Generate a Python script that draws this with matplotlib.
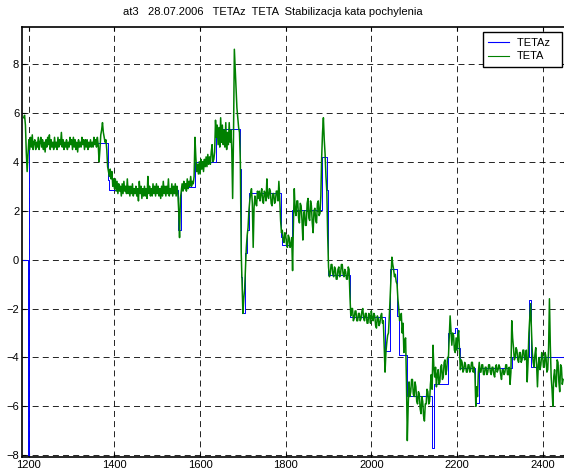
import numpy as np
import matplotlib
matplotlib.use('Agg')
import matplotlib.pyplot as plt

plt.rcParams['font.family'] = ['Liberation Sans', 'DejaVu Sans']
plt.rcParams['lines.scale_dashes'] = False

# TETAz - setpoint, step changes (x where the level starts, level)
tetaz_x = [1186, 1197, 1200, 1384, 1388, 1549, 1556, 1588, 1637, 1693, 1696, 1698,
           1700, 1705, 1709, 1714, 1789, 1791, 1814, 1884, 1896, 1898, 1950, 2032,
           2043, 2060, 2064, 2083, 2141, 2146, 2180, 2195, 2200, 2207, 2242, 2252,
           2328, 2368, 2374, 2390, 2448]
tetaz_y = [0.0, -8.4, 4.75, 3.25, 2.85, 1.2, 2.95, 4.0, 5.34, 3.7, -0.7, -1.5,
           -2.2, 0.27, 1.2, 2.72, 0.93, 0.6, 2.03, 4.2, 2.85, -0.63, -2.35, -3.75,
           -0.37, -2.3, -3.9, -5.58, -7.7, -5.1, -3.0, -2.8, -3.6, -4.45, -5.87, -4.43,
           -4.0, -1.65, -4.4, -4.0, -4.0]

# TETA - measured angle, one sample every 2 steps starting at 1188
teta_start = 1188
teta_step = 2
teta = [
    5.8, 5.9, 5.5, 4.4, 3.6, 4.3, 4.9, 4.5, 5.0, 4.6, 5.1, 4.5, 4.8, 4.9, 4.5, 4.8, 4.6, 5.0, 4.5, 4.8,                  # 1188
    5.0, 4.6, 4.9, 4.5, 4.8, 4.4, 4.9, 4.6, 5.0, 4.7, 5.1, 4.5, 4.9, 4.6, 4.8, 4.5, 5.0, 4.6, 4.8, 4.5,                  # 1228
    5.0, 4.6, 4.9, 4.7, 5.2, 4.6, 4.9, 4.5, 4.8, 4.6, 4.9, 4.5, 4.8, 4.6, 5.0, 4.7, 4.9, 4.5, 5.0, 4.6,                  # 1268
    4.9, 4.5, 4.8, 4.4, 4.9, 4.6, 4.8, 4.6, 5.0, 4.7, 4.9, 4.5, 4.9, 4.6, 4.9, 4.5, 4.8, 4.6, 4.9, 4.6,                  # 1308
    4.8, 4.6, 5.0, 4.7, 4.9, 4.6, 5.0, 4.7, 4.0, 4.5, 5.1, 5.3, 5.6, 5.2, 5.0, 4.8, 4.9, 4.5, 3.8, 3.6,                  # 1348
    3.4, 3.7, 3.3, 3.6, 3.0, 3.3, 2.9, 3.3, 2.8, 3.2, 2.7, 3.1, 2.8, 3.0, 2.6, 3.1, 2.7, 3.2, 2.8, 3.0,                  # 1388
    2.7, 3.3, 2.7, 3.0, 2.6, 3.0, 2.7, 3.1, 2.6, 2.9, 2.7, 3.0, 2.6, 2.9, 2.4, 3.2, 2.7, 3.0, 2.5, 2.9,                  # 1428
    2.6, 3.0, 2.6, 2.9, 2.5, 3.4, 2.7, 3.0, 2.6, 2.9, 2.6, 3.1, 2.7, 3.0, 2.6, 3.1, 2.7, 3.0, 2.6, 2.9,                  # 1468
    2.5, 3.0, 2.6, 3.2, 2.7, 3.0, 2.6, 3.0, 2.7, 3.3, 2.6, 2.9, 2.7, 3.1, 2.6, 3.0, 2.7, 3.1, 2.6, 3.0,                  # 1508
    2.7, 2.0, 0.9, 2.5, 2.8, 3.1, 2.8, 3.2, 2.9, 3.1, 2.8, 3.3, 2.9, 3.2, 3.0, 3.4, 3.0, 3.2, 3.1, 3.4,                  # 1548
    5.0, 4.2, 3.6, 3.9, 3.5, 4.0, 3.5, 4.1, 3.7, 4.0, 3.6, 4.1, 3.8, 4.2, 3.8, 4.3, 3.9, 4.2, 3.9, 4.4,                  # 1588
    4.7, 4.0, 4.1, 4.4, 5.7, 5.0, 5.5, 4.7, 5.4, 4.6, 5.8, 4.8, 5.5, 4.7, 5.3, 4.6, 5.6, 4.5, 5.2, 4.7,                  # 1628
    5.6, 4.8, 5.3, 4.5, 2.5, 5.0, 8.6, 7.8, 7.0, 6.2, 5.8, 5.4, 5.2, 4.0, 0.3, -1.0, -2.2, -1.6, -1.2, -0.3,             # 1668
    0.5, 1.0, 1.3, 2.0, 2.4, 2.7, 2.9, 2.3, 0.5, 2.1, 2.6, 2.3, 2.2, 2.8, 2.5, 2.8, 2.4, 2.7, 2.9, 2.4,                  # 1708
    2.3, 2.8, 2.7, 2.4, 3.3, 2.6, 2.5, 2.9, 2.8, 2.3, 2.2, 2.7, 2.7, 2.3, 2.4, 2.8, 2.8, 2.4, 3.2, 2.5,                  # 1748
    1.6, 1.1, 1.2, 0.8, 0.7, 1.1, 1.0, 0.6, 0.5, 1.0, 0.9, 0.5, 0.6, 0.9, -0.45, 1.5, 2.9, 2.0, 1.8, 2.4,                # 1788
    2.4, 1.7, 1.5, 2.3, 2.2, 1.6, 0.8, 1.9, 2.0, 1.4, 1.4, 2.3, 2.5, 1.7, 1.6, 2.4, 2.2, 1.5, 1.1, 2.0,                  # 1828
    2.1, 1.6, 1.5, 2.3, 2.4, 1.8, 1.9, 2.6, 4.2, 5.2, 5.8, 4.9, 4.3, 3.4, 2.8, 1.0, -0.3, -0.7, -0.6, -0.2,              # 1868
    -0.2, -0.6, -0.7, -0.3, -0.4, -0.8, -0.8, -0.4, -0.3, -0.7, -0.6, -0.2, -0.2, -0.6, -0.7, -0.4, -0.5, -0.8, -0.8, -0.3,  # 1908
    -0.4, -1.5, -2.3, -2.0, -2.0, -2.5, -2.4, -2.1, -2.1, -2.5, -2.5, -2.2, -2.2, -2.5, -2.4, -2.1, -2.0, -2.4, -2.5, -2.2,  # 1948
    -2.2, -2.6, -2.6, -2.2, -2.3, -2.6, -2.1, -2.4, -2.5, -2.2, -2.3, -2.7, -2.8, -2.3, -2.4, -2.7, -2.6, -2.3, -2.2, -2.6,  # 1988
    -2.5, -3.5, -4.6, -3.8, -3.4, -3.1, -3.0, -2.3, -1.5, -0.6, 0.1, -0.2, -0.4, -0.7, -0.6, -0.9, -1.0, -1.6, -2.0, -2.5,   # 2028
    -2.4, -2.2, -3.0, -2.6, -3.8, -3.3, -3.2, -5.0, -7.4, -6.0, -5.0, -5.6, -5.4, -4.9, -4.9, -5.5, -5.6, -5.0, -5.2, -5.8,  # 2068
    -5.9, -5.4, -5.5, -6.1, -6.3, -5.6, -5.8, -6.4, -6.6, -5.9, -5.9, -5.3, -5.4, -5.9, -5.8, -5.1, -4.7, -5.3, -3.5, -4.4,  # 2108
    -4.8, -4.4, -5.2, -4.7, -4.5, -5.1, -5.0, -4.4, -4.3, -4.9, -4.8, -4.2, -4.1, -4.7, -4.5, -4.0, -4.0, -3.2, -2.3, -2.9,  # 2148
    -3.5, -3.0, -3.1, -3.7, -3.8, -3.2, -3.7, -3.1, -2.9, -3.8, -4.5, -4.1, -4.2, -4.6, -4.5, -4.2, -4.3, -4.6, -4.6, -4.3,  # 2188
    -4.3, -4.6, -4.5, -4.2, -4.2, -4.6, -4.4, -4.7, -6.0, -5.2, -5.6, -4.6, -4.2, -4.6, -4.6, -4.3, -4.3, -4.7, -4.7, -4.4,  # 2228
    -4.4, -4.7, -4.6, -4.3, -4.3, -4.6, -4.7, -4.4, -4.4, -4.7, -4.8, -4.4, -4.3, -4.6, -4.5, -4.3, -4.4, -4.7, -4.9, -4.5,  # 2268
    -4.5, -4.7, -4.6, -4.3, -4.3, -4.7, -4.7, -4.4, -5.1, -4.6, -2.5, -3.2, -3.6, -4.1, -4.0, -3.6, -3.7, -4.1, -4.2, -3.8,  # 2308
    -3.8, -4.2, -4.1, -3.7, -3.7, -4.1, -4.0, -3.7, -5.0, -4.2, -3.0, -2.4, -1.8, -2.9, -3.8, -4.2, -4.4, -3.9, -3.6, -4.3,  # 2348
    -5.2, -4.3, -4.0, -4.5, -4.3, -3.8, -3.9, -4.4, -4.4, -3.8, -4.0, -4.6, -4.5, -3.6, -1.6, -3.5, -4.8, -5.3, -6.0, -4.8,  # 2388
    -4.5, -5.0, -5.2, -4.1, -4.2, -5.0, -5.4, -4.3, -4.4, -5.1, -4.9,                                                         # 2428
]
teta_x = teta_start + teta_step * np.arange(len(teta))

xticks = [1200, 1400, 1600, 1800, 2000, 2200, 2400]
yticks = [-8, -6, -4, -2, 0, 2, 4, 6, 8]

fig = plt.figure(figsize=(5.64, 4.76), dpi=100)
ax = fig.add_axes([22/564, 19/476, 545/564, 430/476])

ax.plot(tetaz_x, tetaz_y, color='#0000ff', lw=0.7, drawstyle='steps-post', label='TETAz  ')
ax.plot(teta_x, teta, color='#008000', lw=1.1, label='TETA')

ax.set_xlim(1184, 2457)
ax.set_ylim(-8.07, 9.51)
ax.set_xticks(xticks)
ax.set_yticks(yticks)
ax.tick_params(direction='in', length=3, labelsize=8, top=True, right=True, pad=2)
ax.grid(True, color='black', lw=0.6, linestyle='--', dashes=(4.3, 3.0))
for s in ax.spines.values():
    s.set_linewidth(1.2)

fig.text(273/564, 1 - 12/476, 'at3   28.07.2006   TETAz  TETA  Stabilizacja kata pochylenia',
         ha='center', va='center', fontsize=8)

leg = ax.legend(loc='upper right', bbox_to_anchor=(562/564, 1 - 32/476),
                bbox_transform=fig.transFigure, fontsize=8, fancybox=False,
                framealpha=1, edgecolor='black', handlelength=1.9,
                handletextpad=0.7, labelspacing=0.35, borderpad=0.5,
                borderaxespad=0)
leg.get_frame().set_linewidth(1.0)
for h in leg.get_lines():
    h.set_linewidth(0.8)

fig.savefig('out.png', dpi=100)
